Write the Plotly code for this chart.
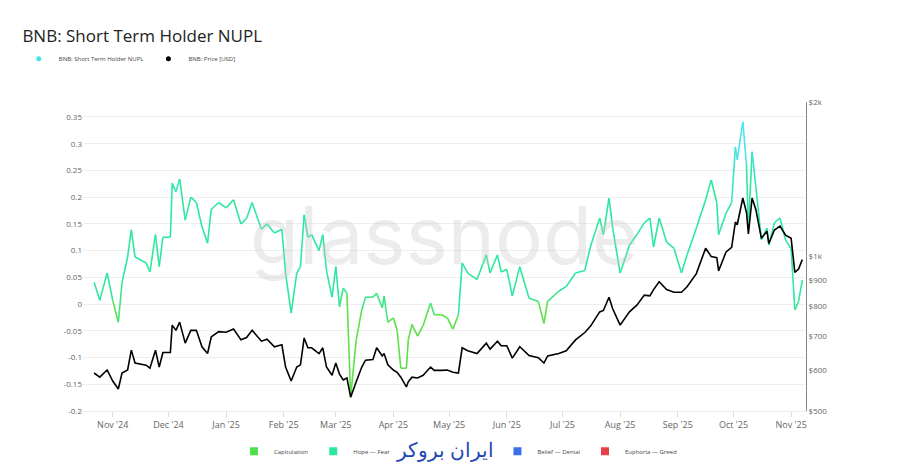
import plotly.graph_objects as go
import pandas as pd

dates = ["2024-10-22", "2024-10-25", "2024-10-29", "2024-11-01", "2024-11-04", "2024-11-06", "2024-11-09", "2024-11-11",
         "2024-11-13", "2024-11-19", "2024-11-21", "2024-11-24", "2024-11-26", "2024-11-28", "2024-12-02", "2024-12-03",
         "2024-12-05", "2024-12-07", "2024-12-10", "2024-12-13", "2024-12-16", "2024-12-19", "2024-12-22", "2024-12-24",
         "2024-12-28", "2025-01-01", "2025-01-05", "2025-01-09", "2025-01-12", "2025-01-15", "2025-01-20", "2025-01-23",
         "2025-01-27", "2025-01-31", "2025-02-02", "2025-02-05", "2025-02-08", "2025-02-10", "2025-02-12", "2025-02-14",
         "2025-02-16", "2025-02-20", "2025-02-22", "2025-02-24", "2025-02-27", "2025-03-01", "2025-03-03", "2025-03-05",
         "2025-03-07", "2025-03-09", "2025-03-12", "2025-03-15", "2025-03-17", "2025-03-21", "2025-03-23", "2025-03-26",
         "2025-03-27", "2025-03-29", "2025-04-01", "2025-04-03", "2025-04-05", "2025-04-08", "2025-04-09", "2025-04-11",
         "2025-04-14", "2025-04-17", "2025-04-21", "2025-04-23", "2025-04-27", "2025-04-30", "2025-05-03", "2025-05-06",
         "2025-05-08", "2025-05-11", "2025-05-16", "2025-05-21", "2025-05-23", "2025-05-27", "2025-05-29", "2025-06-01",
         "2025-06-04", "2025-06-08", "2025-06-13", "2025-06-18", "2025-06-21", "2025-06-23", "2025-06-29", "2025-07-03",
         "2025-07-08", "2025-07-13", "2025-07-16", "2025-07-21", "2025-07-23", "2025-07-26", "2025-07-28", "2025-08-01",
         "2025-08-06", "2025-08-10", "2025-08-14", "2025-08-17", "2025-08-19", "2025-08-22", "2025-08-26", "2025-08-30",
         "2025-09-03", "2025-09-06", "2025-09-11", "2025-09-16", "2025-09-19", "2025-09-22", "2025-09-23", "2025-09-27",
         "2025-09-30", "2025-10-02", "2025-10-03", "2025-10-06", "2025-10-08", "2025-10-09", "2025-10-11", "2025-10-13",
         "2025-10-16", "2025-10-19", "2025-10-20", "2025-10-23", "2025-10-26", "2025-10-29", "2025-11-01", "2025-11-03",
         "2025-11-05", "2025-11-07"]

nupl = [0.041, 0.007, 0.058, 0.007, -0.034, 0.04, 0.088, 0.139, 0.088, 0.077, 0.06, 0.13, 0.07, 0.125, 0.125, 0.226,
        0.21, 0.234, 0.157, 0.2, 0.19, 0.145, 0.114, 0.177, 0.19, 0.18, 0.195, 0.15, 0.16, 0.19, 0.14, 0.15,
        0.133, 0.14, 0.058, -0.017, 0.058, 0.07, 0.167, 0.125, 0.13, 0.1, 0.13, 0.063, 0.013, 0.07, -0.005, 0.03,
        0.02, -0.174, -0.067, -0.011, 0.013, 0.013, 0.02, -0.007, 0.015, -0.034, -0.026, -0.049, -0.12, -0.12, -0.067, -0.038,
        -0.06, -0.04, 0.002, -0.02, -0.02, -0.026, -0.047, -0.02, 0.077, 0.058, 0.046, 0.092, 0.058, 0.092, 0.06, 0.065,
        0.015, 0.07, 0.011, 0.005, -0.036, 0.005, 0.024, 0.033, 0.058, 0.063, 0.107, 0.161, 0.13, 0.198, 0.142, 0.058,
        0.11, 0.13, 0.152, 0.161, 0.107, 0.161, 0.116, 0.104, 0.058, 0.092, 0.142, 0.195, 0.232, 0.19, 0.13, 0.17,
        0.19, 0.294, 0.27, 0.341, 0.26, 0.14, 0.285, 0.22, 0.12, 0.142, 0.11, 0.152, 0.161, 0.12, 0.104, -0.011,
        0.005, 0.045]

price = [593, 582, 601, 572, 552, 593, 601, 657, 620, 614, 606, 657, 609, 650, 650, 735,
         718, 745, 678, 718, 718, 667, 647, 697, 714, 712, 722, 688, 695, 718, 684, 690,
         667, 673, 609, 572, 609, 615, 694, 664, 664, 647, 664, 609, 587, 620, 590, 575,
         580, 532, 570, 609, 628, 630, 664, 640, 647, 615, 601, 595, 582, 557, 570, 582,
         580, 587, 609, 600, 600, 601, 595, 593, 664, 655, 647, 678, 660, 684, 670, 670,
         634, 667, 641, 635, 620, 640, 647, 655, 688, 711, 731, 780, 785, 833, 791, 735,
         780, 804, 841, 838, 862, 893, 862, 852, 852, 873, 926, 1038, 1000, 995, 938, 1021,
         1042, 1167, 1153, 1300, 1218, 1106, 1300, 1235, 1085, 1120, 1060, 1126, 1146, 1100, 1085, 931,
         945, 986]

zones = ["Capitulation", "Hope — Fear", "Optimism — Anxiety", "Belief — Denial", "Euphoria — Greed"]
zone_colors = ["#4fe04f", "#2ee8a0", "#45e3e8", "#3a6fe8", "#e8404a"]

df = pd.DataFrame({"date": pd.to_datetime(dates), "nupl": nupl, "price": price})


def seg_color(v):
    # gradient-ish colouring by NUPL level
    if v < -0.01:
        return "#5ee04a"
    if v < 0.02:
        return "#3ee488"
    if v < 0.22:
        return "#2ee8a0"
    if v < 0.27:
        return "#38e6c8"
    return "#4de3ec"


fig = go.Figure()

for i in range(len(df) - 1):
    fig.add_trace(go.Scatter(
        x=df["date"].iloc[i:i + 2], y=df["nupl"].iloc[i:i + 2], mode="lines",
        line=dict(color=seg_color((df["nupl"].iloc[i] + df["nupl"].iloc[i + 1]) / 2), width=1.6),
        showlegend=False, hoverinfo="skip"))

fig.add_trace(go.Scatter(x=df["date"], y=df["price"], mode="lines", yaxis="y2",
                         line=dict(color="black", width=1.6), showlegend=False))

# top legend
fig.add_trace(go.Scatter(x=[None], y=[None], mode="markers", name="BNB: Short Term Holder NUPL",
                         marker=dict(color="#45e3e8", size=5), legend="legend"))
fig.add_trace(go.Scatter(x=[None], y=[None], mode="markers", name="BNB: Price [USD]",
                         marker=dict(color="black", size=5), legend="legend"))
# bottom zone legend
for z, c in zip(zones, zone_colors):
    fig.add_trace(go.Scatter(x=[None], y=[None], mode="markers", name=z,
                             marker=dict(color=c, size=8, symbol="square"), legend="legend2"))

fig.add_annotation(text="glassnode", xref="paper", yref="paper", x=0.5, y=0.57, showarrow=False,
                   font=dict(size=80, color="rgba(200,200,200,0.35)", family="Inter"))
fig.add_annotation(text="ایران بروکر", xref="paper", yref="paper", x=0.5, y=-0.126, yanchor="middle",
                   showarrow=False, bgcolor="white",
                   font=dict(size=20, color="#1f47b8", family="Noto Sans"))

fig.update_layout(
    width=900, height=471,
    paper_bgcolor="white", plot_bgcolor="white",
    margin=dict(l=75, r=102, t=94, b=68, autoexpand=False),
    font=dict(family="Open Sans", color="#666", size=9),
    title=dict(text="BNB: Short Term Holder NUPL", x=0.016, y=0.953, xanchor="left",
               font=dict(size=17, color="#222", family="Open Sans")),
    legend=dict(orientation="h", x=0.012, xref="container", y=0.892, yref="container",
                xanchor="left", yanchor="middle",
                font=dict(size=6, color="#444")),
    legend2=dict(orientation="h", x=0.5, xref="container", y=0.059, yref="container",
                 xanchor="center", yanchor="middle",
                 font=dict(size=6, color="#444")),
    xaxis=dict(range=["2024-10-16", "2025-11-09"], dtick="M1", tickformat="%b '%y",
               showgrid=False, ticks="outside", ticklen=5, tickcolor="#ddd",
               showline=True, linecolor="#eee", tickfont=dict(size=9)),
    yaxis=dict(range=[-0.2, 0.378],
               tickvals=[-0.2, -0.15, -0.1, -0.05, 0, 0.05, 0.1, 0.15, 0.2, 0.25, 0.3, 0.35],
               ticktext=["-0.2", "-0.15", "-0.1", "-0.05", "0", "0.05", "0.1", "0.15", "0.2", "0.25", "0.3", "0.35"],
               gridcolor="#eeeeee", zeroline=False, showline=False, tickfont=dict(size=8)),
    yaxis2=dict(type="log", overlaying="y", side="right", range=[2.699, 3.301],
                tickvals=[500, 600, 700, 800, 900, 1000, 2000],
                ticktext=["$500", "$600", "$700", "$800", "$900", "$1k", "$2k"],
                showgrid=False, showline=True, linecolor="#888", linewidth=1, ticklen=0,
                tickfont=dict(size=8)),
)

fig.write_html("out.html")
